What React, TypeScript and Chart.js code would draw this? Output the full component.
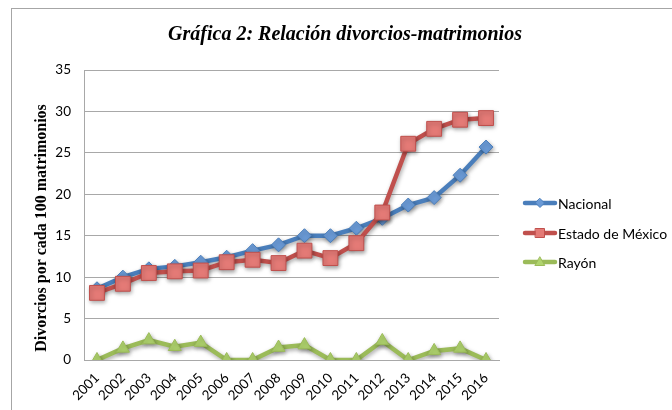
import React, { useEffect, useRef } from "react";
import { Chart, registerables } from "chart.js";

Chart.register(...registerables);

const years = ["2001", "2002", "2003", "2004", "2005", "2006", "2007", "2008", "2009", "2010", "2011", "2012", "2013", "2014", "2015", "2016"];
const nacional = [8.6, 10.0, 11.0, 11.3, 11.8, 12.4, 13.2, 13.9, 15.0, 15.0, 15.9, 17.1, 18.7, 19.6, 22.3, 25.7];
const estadoMexico = [8.1, 9.2, 10.5, 10.7, 10.8, 11.8, 12.1, 11.7, 13.2, 12.3, 14.1, 17.8, 26.1, 27.9, 29.0, 29.2];
const rayon = [0, 1.4, 2.4, 1.6, 2.1, 0, 0, 1.5, 1.8, 0, 0, 2.3, 0, 1.1, 1.4, 0];
const seriesNames = ["Nacional", "Estado de México", "Rayón"];
const chartTitle = "Gráfica 2: Relación divorcios-matrimonios";
const yAxisTitle = "Divorcios por cada 100 matrimonios";

const BLUE = "#4a7ebb";
const BLUE_FILL = "#6a9ad6";
const RED = "#c0504d";
const RED_FILL = "#e47a76";
const GREEN = "#9bbb59";
const GREEN_FILL = "#b0d46e";
const GRID = "#a8a8a8";
const TICK_FONT = "Lato, 'Open Sans', sans-serif";

function drawMarker(ctx: CanvasRenderingContext2D, style: string, x: number, y: number, r: number, fill: string, stroke: string) {
  ctx.beginPath();
  if (style === "rectRot") {
    ctx.moveTo(x, y - r);
    ctx.lineTo(x + r, y);
    ctx.lineTo(x, y + r);
    ctx.lineTo(x - r, y);
  } else if (style === "rect") {
    ctx.rect(x - r, y - r, 2 * r, 2 * r);
  } else {
    ctx.moveTo(x, y - r);
    ctx.lineTo(x + r * 0.95, y + r * 0.7);
    ctx.lineTo(x - r * 0.95, y + r * 0.7);
  }
  ctx.closePath();
  ctx.fillStyle = fill;
  ctx.fill();
  ctx.lineWidth = 1;
  ctx.strokeStyle = stroke;
  ctx.stroke();
}

const decorPlugin = {
  id: "decor",
  beforeDatasetDraw(chart: any) {
    const ctx = chart.ctx;
    ctx.save();
    ctx.shadowColor = "rgba(0,0,0,0.35)";
    ctx.shadowBlur = 4;
    ctx.shadowOffsetX = 1;
    ctx.shadowOffsetY = 2;
  },
  afterDatasetDraw(chart: any) {
    chart.ctx.restore();
  },
  afterDraw(chart: any) {
    const ctx: CanvasRenderingContext2D = chart.ctx;
    const area = chart.chartArea;
    ctx.save();
    // Title
    ctx.fillStyle = "#000";
    ctx.font = "bold italic 20px 'Liberation Serif', 'Times New Roman', serif";
    ctx.textAlign = "center";
    ctx.textBaseline = "middle";
    ctx.fillText(chartTitle, 345, 35);
    // Y axis title
    ctx.save();
    ctx.translate(42, 228);
    ctx.rotate(-Math.PI / 2);
    ctx.font = "bold 16px 'Liberation Serif', 'Times New Roman', serif";
    ctx.fillText(yAxisTitle, 0, 0);
    ctx.restore();
    // Legend
    const items = [
      { name: seriesNames[0], color: BLUE, fill: BLUE_FILL, style: "rectRot", r: 4.5, y: 203 },
      { name: seriesNames[1], color: RED, fill: RED_FILL, style: "rect", r: 4.5, y: 233 },
      { name: seriesNames[2], color: GREEN, fill: GREEN_FILL, style: "triangle", r: 5, y: 262 },
    ];
    const x0 = area.right + 26;
    for (const it of items) {
      ctx.beginPath();
      ctx.lineCap = "round";
      ctx.lineWidth = 4.5;
      ctx.strokeStyle = it.color;
      ctx.moveTo(x0, it.y);
      ctx.lineTo(x0 + 30, it.y);
      ctx.stroke();
      drawMarker(ctx, it.style, x0 + 15, it.y, it.r, it.fill, it.color);
      ctx.fillStyle = "#000";
      ctx.font = `14px ${TICK_FONT}`;
      ctx.textAlign = "left";
      ctx.textBaseline = "middle";
      ctx.fillText(it.name, x0 + 33, it.y + 1);
    }
    ctx.restore();
  },
};

export default function App() {
  const ref = useRef<HTMLCanvasElement | null>(null);

  useEffect(() => {
    if (!ref.current) return;
    const chart = new Chart(ref.current, {
      type: "line",
      data: {
        labels: years,
        datasets: [
          {
            label: seriesNames[0],
            data: nacional,
            borderColor: BLUE,
            backgroundColor: BLUE_FILL,
            pointBackgroundColor: BLUE_FILL,
            pointBorderColor: BLUE,
            pointStyle: "rectRot",
            pointRadius: 7,
            pointBorderWidth: 1,
            borderWidth: 4.5,
            tension: 0,
            order: 3,
          },
          {
            label: seriesNames[1],
            data: estadoMexico,
            borderColor: RED,
            backgroundColor: RED_FILL,
            pointBackgroundColor: RED_FILL,
            pointBorderColor: RED,
            pointStyle: "rect",
            pointRadius: 10.5,
            pointBorderWidth: 1,
            borderWidth: 4.5,
            tension: 0,
            order: 2,
          },
          {
            label: seriesNames[2],
            data: rayon,
            borderColor: GREEN,
            backgroundColor: GREEN_FILL,
            pointBackgroundColor: GREEN_FILL,
            pointBorderColor: GREEN,
            pointStyle: "triangle",
            pointRadius: 7.5,
            pointBorderWidth: 1,
            borderWidth: 4.5,
            tension: 0,
            order: 1,
          },
        ],
      },
      options: {
        responsive: false,
        animation: false,
        layout: { padding: { top: 70, right: 173, left: 0, bottom: 0 } },
        plugins: {
          legend: { display: false },
          title: { display: false },
          tooltip: { enabled: false },
        },
        scales: {
          x: {
            offset: true,
            grid: { display: false },
            border: { display: true, color: GRID, width: 1 },
            ticks: {
              color: "#000",
              font: { family: TICK_FONT, size: 13.5 },
              maxRotation: 45,
              minRotation: 45,
              autoSkip: false,
              padding: 2,
            },
            afterFit: (scale: any) => {
              scale.height = 50;
            },
          },
          y: {
            min: 0,
            max: 35,
            ticks: {
              stepSize: 5,
              color: "#000",
              font: { family: TICK_FONT, size: 13.5 },
              padding: 13,
            },
            grid: { color: GRID, drawTicks: false, lineWidth: 1 },
            border: { display: true, color: GRID, width: 1 },
            afterFit: (scale: any) => {
              scale.width = 84;
            },
          },
        },
      },
      plugins: [decorPlugin],
    });
    return () => chart.destroy();
  }, []);

  return (
    <div style={{ position: "fixed", left: 0, top: 0, width: 672, height: 410, background: "#fff", overflow: "hidden" }}>
      <div
        style={{
          position: "absolute",
          left: 11,
          top: 8,
          width: 700,
          height: 500,
          border: "1px solid #a6a6a6",
          boxSizing: "border-box",
        }}
      />
      <canvas ref={ref} width={672} height={410} style={{ position: "absolute", left: 0, top: 0 }} />
    </div>
  );
}
